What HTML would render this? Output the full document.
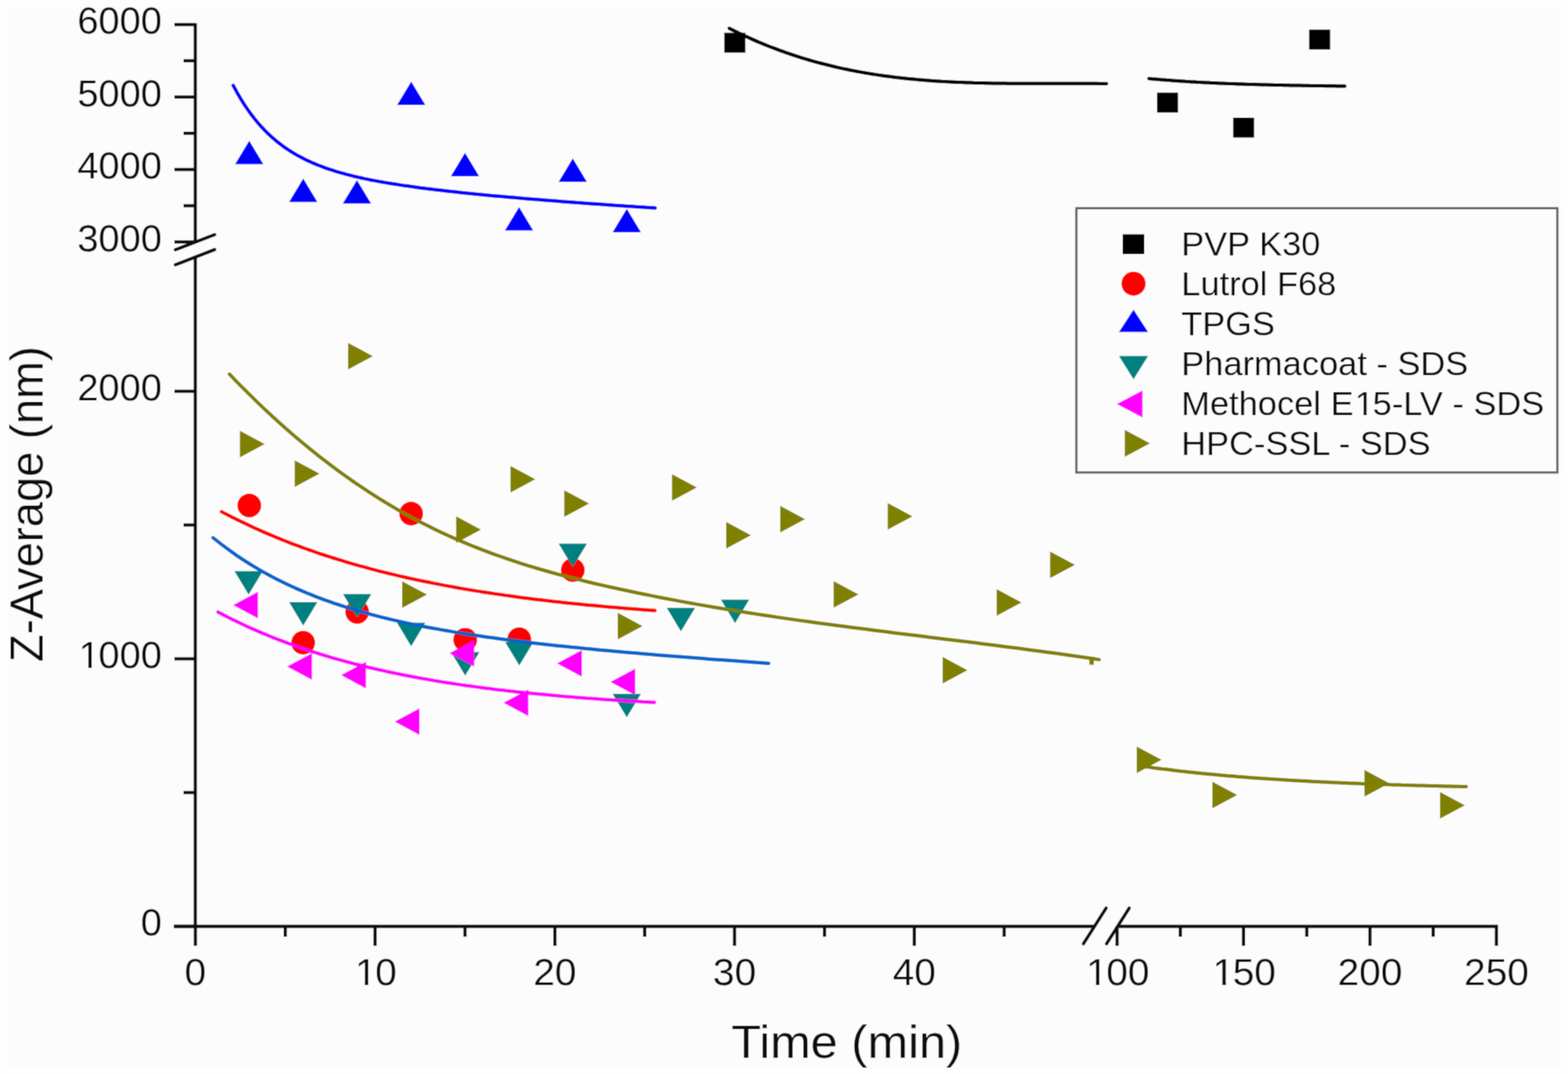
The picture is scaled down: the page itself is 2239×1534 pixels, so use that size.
<!DOCTYPE html><html><head><meta charset="utf-8"><style>html,body{margin:0;padding:0;background:#fefefe;}svg{display:block}text{font-family:"Liberation Sans",Arial,sans-serif;fill:#111}</style></head><body>
<svg width="2239" height="1534" viewBox="0 0 2239 1534">
<defs><filter id="bl" x="0" y="0" width="2239" height="1534" filterUnits="userSpaceOnUse"><feConvolveMatrix order="3" kernelMatrix="0.04 0.12 0.04 0.12 0.36 0.12 0.04 0.12 0.04" edgeMode="duplicate"/></filter></defs>
<g filter="url(#bl)">
<rect x="0" y="0" width="2239" height="1534" fill="#fefefe"/>
<rect x="9" y="10" width="2221" height="1516" fill="#fcfcfc"/>
<g><circle cx="356.0" cy="722.1" r="17" fill="#ff0000"/><circle cx="432.9" cy="917.9" r="17" fill="#ff0000"/><circle cx="510.0" cy="874.0" r="17" fill="#ff0000"/><circle cx="587.1" cy="733.6" r="17" fill="#ff0000"/><circle cx="664.3" cy="913.7" r="17" fill="#ff0000"/><circle cx="741.5" cy="913.0" r="17" fill="#ff0000"/><circle cx="817.9" cy="814.3" r="17" fill="#ff0000"/></g>
<path fill="#0000ff" d="M355.9 200.9L376.1 234.4L335.7 234.4ZM433.0 254.9L453.2 288.4L412.8 288.4ZM509.7 257.3L529.9 290.8L489.5 290.8ZM587.2 116.4L607.4 149.9L567.0 149.9ZM664.0 218.3L684.2 251.8L643.8 251.8ZM741.2 295.8L761.4 329.3L721.0 329.3ZM817.9 226.3L838.1 259.8L797.7 259.8ZM895.0 298.2L915.2 331.7L874.8 331.7Z"/>
<path fill="#008080" d="M334.8 815.7L375.2 815.7L355.0 849.2ZM412.8 860.0L453.2 860.0L433.0 893.5ZM489.8 848.6L530.2 848.6L510.0 882.1ZM566.9 889.5L607.3 889.5L587.1 923.0ZM644.1 931.5L684.5 931.5L664.3 965.0ZM721.3 917.0L761.7 917.0L741.5 950.5ZM797.7 776.4L838.1 776.4L817.9 809.9ZM874.8 991.0L915.2 991.0L895.0 1024.5ZM952.1 868.3L992.5 868.3L972.3 901.8ZM1029.4 856.5L1069.8 856.5L1049.6 890.0Z"/>
<path fill="#ff00ff" d="M332.9 864.3L368.3 845.3L368.3 883.3ZM410.0 952.1L445.4 933.1L445.4 971.1ZM487.1 964.3L522.5 945.3L522.5 983.3ZM563.6 1030.7L599.0 1011.7L599.0 1049.7ZM641.8 933.1L677.2 914.1L677.2 952.1ZM719.0 1003.8L754.4 984.8L754.4 1022.8ZM795.4 947.5L830.8 928.5L830.8 966.5ZM871.7 974.0L907.1 955.0L907.1 993.0Z"/>
<path fill="#808000" d="M342.6 615.3L378.0 634.3L342.6 653.3ZM420.8 657.5L456.2 676.5L420.8 695.5ZM497.0 489.7L532.4 508.7L497.0 527.7ZM574.3 830.3L609.7 849.3L574.3 868.3ZM651.4 737.4L686.8 756.4L651.4 775.4ZM728.9 665.6L764.3 684.6L728.9 703.6ZM805.7 700.2L841.1 719.2L805.7 738.2ZM882.1 875.3L917.5 894.3L882.1 913.3ZM959.6 677.2L995.0 696.2L959.6 715.2ZM1036.9 745.6L1072.3 764.6L1036.9 783.6ZM1114.1 722.4L1149.5 741.4L1114.1 760.4ZM1190.4 830.0L1225.8 849.0L1190.4 868.0ZM1267.6 718.5L1303.0 737.5L1267.6 756.5ZM1346.0 938.2L1381.4 957.2L1346.0 976.2ZM1423.2 841.4L1458.6 860.4L1423.2 879.4ZM1499.5 787.8L1534.9 806.8L1499.5 825.8ZM1623.2 1066.3L1658.6 1085.3L1623.2 1104.3ZM1731.2 1116.6L1766.6 1135.6L1731.2 1154.6ZM1948.4 1099.8L1983.8 1118.8L1948.4 1137.8ZM2056.3 1131.3L2091.7 1150.3L2056.3 1169.3Z"/>
<path fill="#000" d="M1034.3 46.8h30v28.5h-30ZM1652.2 132.2h30v28.5h-30ZM1760.8 167.9h30v28.5h-30ZM1869.4 42.2h30v28.5h-30Z"/>
<rect x="1555.6" y="938" width="6.3" height="11.5" fill="#808000"/>
<path d="M333.0 122.0 L338.1 131.4 L343.1 140.1 L348.2 148.3 L353.3 155.9 L358.3 162.9 L363.4 169.5 L368.4 175.6 L373.5 181.3 L378.6 186.7 L383.6 191.7 L388.7 196.3 L393.8 200.7 L398.8 204.7 L403.9 208.6 L408.9 212.1 L414.0 215.5 L419.1 218.6 L424.1 221.6 L429.2 224.3 L434.3 227.0 L439.3 229.4 L444.4 231.7 L449.4 233.9 L454.5 236.0 L459.6 237.9 L464.6 239.8 L469.7 241.6 L474.8 243.2 L479.8 244.8 L484.9 246.3 L490.0 247.7 L495.0 249.1 L500.1 250.4 L505.1 251.7 L510.2 252.9 L515.3 254.0 L520.3 255.1 L525.4 256.1 L530.5 257.2 L535.5 258.1 L540.6 259.1 L545.6 260.0 L550.7 260.9 L555.8 261.7 L560.8 262.5 L565.9 263.3 L571.0 264.1 L576.0 264.9 L581.1 265.6 L586.2 266.3 L591.2 267.0 L596.3 267.7 L601.3 268.4 L606.4 269.0 L611.5 269.7 L616.5 270.3 L621.6 270.9 L626.7 271.5 L631.7 272.1 L636.8 272.7 L641.8 273.2 L646.9 273.8 L652.0 274.3 L657.0 274.9 L662.1 275.4 L667.2 275.9 L672.2 276.4 L677.3 276.9 L682.3 277.4 L687.4 277.9 L692.5 278.4 L697.5 278.9 L702.6 279.4 L707.7 279.9 L712.7 280.3 L717.8 280.8 L722.9 281.2 L727.9 281.7 L733.0 282.1 L738.0 282.6 L743.1 283.0 L748.2 283.4 L753.2 283.9 L758.3 284.3 L763.4 284.7 L768.4 285.1 L773.5 285.5 L778.5 285.9 L783.6 286.3 L788.7 286.7 L793.7 287.1 L798.8 287.5 L803.9 287.9 L808.9 288.3 L814.0 288.7 L819.1 289.1 L824.1 289.4 L829.2 289.8 L834.2 290.2 L839.3 290.6 L844.4 290.9 L849.4 291.3 L854.5 291.6 L859.6 292.0 L864.6 292.3 L869.7 292.7 L874.7 293.0 L879.8 293.4 L884.9 293.7 L889.9 294.1 L895.0 294.4 L900.1 294.7 L905.1 295.1 L910.2 295.4 L915.2 295.7 L920.3 296.0 L925.4 296.4 L930.4 296.7 L935.5 297.0" fill="none" stroke="#0000ff" stroke-width="5.0" stroke-linecap="round" stroke-linejoin="round"/>
<path d="M316.4 730.9 L321.6 733.6 L326.8 736.3 L332.0 739.0 L337.2 741.6 L342.4 744.1 L347.6 746.6 L352.8 749.1 L358.0 751.6 L363.2 754.0 L368.4 756.3 L373.6 758.6 L378.8 760.9 L384.0 763.1 L389.2 765.3 L394.4 767.5 L399.6 769.6 L404.8 771.7 L410.0 773.8 L415.2 775.8 L420.4 777.8 L425.6 779.7 L430.8 781.6 L436.0 783.5 L441.2 785.4 L446.4 787.2 L451.6 789.0 L456.8 790.8 L462.0 792.5 L467.2 794.2 L472.4 795.9 L477.6 797.5 L482.8 799.2 L488.0 800.7 L493.2 802.3 L498.4 803.8 L503.6 805.4 L508.8 806.8 L514.0 808.3 L519.2 809.7 L524.4 811.2 L529.6 812.6 L534.8 813.9 L540.0 815.3 L545.2 816.6 L550.4 817.9 L555.6 819.2 L560.8 820.4 L566.0 821.6 L571.2 822.9 L576.4 824.0 L581.6 825.2 L586.8 826.4 L592.0 827.5 L597.2 828.6 L602.4 829.7 L607.6 830.8 L612.8 831.8 L618.0 832.9 L623.2 833.9 L628.4 834.9 L633.6 835.9 L638.8 836.9 L644.0 837.8 L649.2 838.8 L654.4 839.7 L659.6 840.6 L664.8 841.5 L670.0 842.4 L675.2 843.2 L680.4 844.1 L685.6 844.9 L690.8 845.7 L696.0 846.5 L701.2 847.3 L706.4 848.1 L711.6 848.9 L716.8 849.6 L722.0 850.4 L727.2 851.1 L732.4 851.8 L737.6 852.5 L742.8 853.2 L748.0 853.9 L753.2 854.6 L758.4 855.2 L763.6 855.9 L768.8 856.5 L774.0 857.1 L779.2 857.7 L784.4 858.3 L789.6 858.9 L794.8 859.5 L800.0 860.1 L805.2 860.7 L810.4 861.2 L815.6 861.8 L820.8 862.3 L826.0 862.8 L831.2 863.3 L836.4 863.9 L841.6 864.4 L846.8 864.8 L852.0 865.3 L857.2 865.8 L862.4 866.3 L867.6 866.7 L872.8 867.2 L878.0 867.6 L883.2 868.1 L888.4 868.5 L893.6 868.9 L898.8 869.3 L904.0 869.7 L909.2 870.1 L914.4 870.5 L919.6 870.9 L924.8 871.3 L930.0 871.7 L935.2 872.1" fill="none" stroke="#ff0000" stroke-width="5.0" stroke-linecap="round" stroke-linejoin="round"/>
<path d="M304.3 768.1 L311.0 773.4 L317.6 778.6 L324.3 783.6 L331.0 788.4 L337.6 793.1 L344.3 797.6 L351.0 801.9 L357.6 806.1 L364.3 810.2 L371.0 814.1 L377.6 817.9 L384.3 821.5 L391.0 825.1 L397.6 828.5 L404.3 831.8 L410.9 835.0 L417.6 838.1 L424.3 841.1 L430.9 843.9 L437.6 846.7 L444.3 849.4 L450.9 852.1 L457.6 854.6 L464.3 857.1 L470.9 859.4 L477.6 861.8 L484.3 864.0 L490.9 866.2 L497.6 868.3 L504.3 870.3 L510.9 872.3 L517.6 874.2 L524.3 876.0 L530.9 877.9 L537.6 879.6 L544.3 881.3 L550.9 883.0 L557.6 884.6 L564.3 886.1 L570.9 887.7 L577.6 889.1 L584.3 890.6 L590.9 892.0 L597.6 893.3 L604.2 894.7 L610.9 896.0 L617.6 897.2 L624.2 898.4 L630.9 899.6 L637.6 900.8 L644.2 901.9 L650.9 903.1 L657.6 904.1 L664.2 905.2 L670.9 906.2 L677.6 907.3 L684.2 908.2 L690.9 909.2 L697.6 910.2 L704.2 911.1 L710.9 912.0 L717.6 912.9 L724.2 913.8 L730.9 914.6 L737.6 915.5 L744.2 916.3 L750.9 917.1 L757.6 917.9 L764.2 918.7 L770.9 919.4 L777.6 920.2 L784.2 920.9 L790.9 921.7 L797.6 922.4 L804.2 923.1 L810.9 923.8 L817.5 924.5 L824.2 925.1 L830.9 925.8 L837.5 926.4 L844.2 927.1 L850.9 927.7 L857.5 928.4 L864.2 929.0 L870.9 929.6 L877.5 930.2 L884.2 930.8 L890.9 931.4 L897.5 932.0 L904.2 932.6 L910.9 933.1 L917.5 933.7 L924.2 934.3 L930.9 934.8 L937.5 935.4 L944.2 935.9 L950.9 936.5 L957.5 937.0 L964.2 937.5 L970.9 938.1 L977.5 938.6 L984.2 939.1 L990.9 939.6 L997.5 940.1 L1004.2 940.6 L1010.8 941.2 L1017.5 941.7 L1024.2 942.2 L1030.8 942.6 L1037.5 943.1 L1044.2 943.6 L1050.8 944.1 L1057.5 944.6 L1064.2 945.1 L1070.8 945.6 L1077.5 946.1 L1084.2 946.5 L1090.8 947.0 L1097.5 947.5" fill="none" stroke="#0066cc" stroke-width="5.0" stroke-linecap="round" stroke-linejoin="round"/>
<path d="M311.4 874.2 L316.6 877.0 L321.9 879.7 L327.1 882.4 L332.3 885.0 L337.6 887.5 L342.8 890.0 L348.1 892.5 L353.3 894.9 L358.5 897.3 L363.8 899.6 L369.0 901.9 L374.2 904.1 L379.5 906.3 L384.7 908.5 L389.9 910.6 L395.2 912.7 L400.4 914.7 L405.7 916.7 L410.9 918.6 L416.1 920.5 L421.4 922.4 L426.6 924.2 L431.8 926.0 L437.1 927.8 L442.3 929.5 L447.5 931.2 L452.8 932.9 L458.0 934.5 L463.2 936.1 L468.5 937.7 L473.7 939.3 L479.0 940.8 L484.2 942.2 L489.4 943.7 L494.7 945.1 L499.9 946.5 L505.1 947.9 L510.4 949.2 L515.6 950.5 L520.8 951.8 L526.1 953.1 L531.3 954.3 L536.6 955.6 L541.8 956.8 L547.0 957.9 L552.3 959.1 L557.5 960.2 L562.7 961.3 L568.0 962.4 L573.2 963.5 L578.4 964.5 L583.7 965.5 L588.9 966.5 L594.2 967.5 L599.4 968.5 L604.6 969.4 L609.9 970.3 L615.1 971.2 L620.3 972.1 L625.6 973.0 L630.8 973.9 L636.0 974.7 L641.3 975.5 L646.5 976.3 L651.7 977.1 L657.0 977.9 L662.2 978.7 L667.5 979.4 L672.7 980.1 L677.9 980.9 L683.2 981.6 L688.4 982.2 L693.6 982.9 L698.9 983.6 L704.1 984.2 L709.3 984.9 L714.6 985.5 L719.8 986.1 L725.1 986.7 L730.3 987.3 L735.5 987.9 L740.8 988.5 L746.0 989.0 L751.2 989.6 L756.5 990.1 L761.7 990.6 L766.9 991.1 L772.2 991.6 L777.4 992.1 L782.7 992.6 L787.9 993.1 L793.1 993.6 L798.4 994.0 L803.6 994.5 L808.8 994.9 L814.1 995.3 L819.3 995.8 L824.5 996.2 L829.8 996.6 L835.0 997.0 L840.2 997.4 L845.5 997.7 L850.7 998.1 L856.0 998.5 L861.2 998.9 L866.4 999.2 L871.7 999.6 L876.9 999.9 L882.1 1000.2 L887.4 1000.6 L892.6 1000.9 L897.8 1001.2 L903.1 1001.5 L908.3 1001.8 L913.6 1002.1 L918.8 1002.4 L924.0 1002.7 L929.3 1003.0 L934.5 1003.2" fill="none" stroke="#ff00ff" stroke-width="5.0" stroke-linecap="round" stroke-linejoin="round"/>
<path d="M327.6 534.3 L338.0 545.2 L348.5 555.7 L358.9 566.1 L369.3 576.3 L379.8 586.2 L390.2 595.9 L400.7 605.3 L411.1 614.6 L421.5 623.6 L432.0 632.4 L442.4 641.0 L452.8 649.4 L463.3 657.5 L473.7 665.5 L484.1 673.2 L494.6 680.8 L505.0 688.1 L515.5 695.2 L525.9 702.1 L536.3 708.9 L546.8 715.4 L557.2 721.7 L567.6 727.8 L578.1 733.7 L588.5 739.4 L598.9 745.0 L609.4 750.3 L619.8 755.5 L630.2 760.4 L640.7 765.2 L651.1 769.9 L661.6 774.4 L672.0 778.7 L682.4 782.9 L692.9 786.9 L703.3 790.8 L713.7 794.5 L724.2 798.2 L734.6 801.7 L745.0 805.1 L755.5 808.3 L765.9 811.5 L776.4 814.5 L786.8 817.5 L797.2 820.4 L807.7 823.1 L818.1 825.8 L828.5 828.4 L839.0 831.0 L849.4 833.5 L859.8 835.9 L870.3 838.2 L880.7 840.5 L891.2 842.8 L901.6 845.0 L912.0 847.2 L922.5 849.3 L932.9 851.4 L943.3 853.5 L953.8 855.5 L964.2 857.4 L974.6 859.4 L985.1 861.3 L995.5 863.1 L1005.9 864.9 L1016.4 866.7 L1026.8 868.5 L1037.3 870.2 L1047.7 871.9 L1058.1 873.6 L1068.6 875.2 L1079.0 876.9 L1089.4 878.5 L1099.9 880.0 L1110.3 881.6 L1120.7 883.1 L1131.2 884.6 L1141.6 886.1 L1152.1 887.5 L1162.5 889.0 L1172.9 890.4 L1183.4 891.8 L1193.8 893.2 L1204.2 894.6 L1214.7 895.9 L1225.1 897.3 L1235.5 898.6 L1246.0 900.0 L1256.4 901.3 L1266.9 902.6 L1277.3 903.9 L1287.7 905.2 L1298.2 906.5 L1308.6 907.8 L1319.0 909.1 L1329.5 910.4 L1339.9 911.7 L1350.3 913.0 L1360.8 914.3 L1371.2 915.5 L1381.6 916.8 L1392.1 918.1 L1402.5 919.5 L1413.0 920.8 L1423.4 922.1 L1433.8 923.4 L1444.3 924.8 L1454.7 926.1 L1465.1 927.5 L1475.6 928.9 L1486.0 930.3 L1496.4 931.7 L1506.9 933.1 L1517.3 934.5 L1527.8 936.0 L1538.2 937.5 L1548.6 939.0 L1559.1 940.5 L1569.5 942.1" fill="none" stroke="#808000" stroke-width="5.0" stroke-linecap="round" stroke-linejoin="round"/>
<path d="M1636.0 1095.1 L1639.8 1095.6 L1643.7 1096.1 L1647.5 1096.7 L1651.4 1097.2 L1655.2 1097.7 L1659.1 1098.2 L1662.9 1098.6 L1666.8 1099.1 L1670.6 1099.6 L1674.4 1100.0 L1678.3 1100.5 L1682.1 1100.9 L1686.0 1101.4 L1689.8 1101.8 L1693.7 1102.2 L1697.5 1102.7 L1701.4 1103.1 L1705.2 1103.5 L1709.0 1103.9 L1712.9 1104.3 L1716.7 1104.7 L1720.6 1105.0 L1724.4 1105.4 L1728.3 1105.8 L1732.1 1106.1 L1736.0 1106.5 L1739.8 1106.8 L1743.6 1107.2 L1747.5 1107.5 L1751.3 1107.9 L1755.2 1108.2 L1759.0 1108.5 L1762.9 1108.8 L1766.7 1109.2 L1770.6 1109.5 L1774.4 1109.8 L1778.2 1110.1 L1782.1 1110.4 L1785.9 1110.7 L1789.8 1110.9 L1793.6 1111.2 L1797.5 1111.5 L1801.3 1111.8 L1805.2 1112.0 L1809.0 1112.3 L1812.8 1112.6 L1816.7 1112.8 L1820.5 1113.1 L1824.4 1113.3 L1828.2 1113.5 L1832.1 1113.8 L1835.9 1114.0 L1839.8 1114.3 L1843.6 1114.5 L1847.4 1114.7 L1851.3 1114.9 L1855.1 1115.1 L1859.0 1115.4 L1862.8 1115.6 L1866.7 1115.8 L1870.5 1116.0 L1874.4 1116.2 L1878.2 1116.4 L1882.1 1116.6 L1885.9 1116.8 L1889.7 1116.9 L1893.6 1117.1 L1897.4 1117.3 L1901.3 1117.5 L1905.1 1117.7 L1909.0 1117.8 L1912.8 1118.0 L1916.7 1118.2 L1920.5 1118.3 L1924.3 1118.5 L1928.2 1118.7 L1932.0 1118.8 L1935.9 1119.0 L1939.7 1119.1 L1943.6 1119.3 L1947.4 1119.4 L1951.3 1119.6 L1955.1 1119.7 L1958.9 1119.9 L1962.8 1120.0 L1966.6 1120.1 L1970.5 1120.3 L1974.3 1120.4 L1978.2 1120.5 L1982.0 1120.6 L1985.9 1120.8 L1989.7 1120.9 L1993.5 1121.0 L1997.4 1121.1 L2001.2 1121.3 L2005.1 1121.4 L2008.9 1121.5 L2012.8 1121.6 L2016.6 1121.7 L2020.5 1121.8 L2024.3 1121.9 L2028.1 1122.0 L2032.0 1122.1 L2035.8 1122.2 L2039.7 1122.3 L2043.5 1122.4 L2047.4 1122.5 L2051.2 1122.6 L2055.1 1122.7 L2058.9 1122.8 L2062.7 1122.9 L2066.6 1123.0 L2070.4 1123.1 L2074.3 1123.2 L2078.1 1123.3 L2082.0 1123.3 L2085.8 1123.4 L2089.7 1123.5 L2093.5 1123.6" fill="none" stroke="#808000" stroke-width="5.0" stroke-linecap="round" stroke-linejoin="round"/>
<path d="M1041.4 40.5 L1045.9 42.8 L1050.5 45.0 L1055.0 47.2 L1059.5 49.4 L1064.0 51.5 L1068.6 53.6 L1073.1 55.6 L1077.6 57.6 L1082.1 59.6 L1086.7 61.5 L1091.2 63.4 L1095.7 65.2 L1100.2 67.0 L1104.8 68.7 L1109.3 70.4 L1113.8 72.1 L1118.3 73.7 L1122.9 75.3 L1127.4 76.9 L1131.9 78.4 L1136.4 79.9 L1141.0 81.4 L1145.5 82.8 L1150.0 84.1 L1154.6 85.5 L1159.1 86.8 L1163.6 88.1 L1168.1 89.3 L1172.7 90.5 L1177.2 91.7 L1181.7 92.8 L1186.2 93.9 L1190.8 95.0 L1195.3 96.1 L1199.8 97.1 L1204.3 98.1 L1208.9 99.0 L1213.4 100.0 L1217.9 100.9 L1222.4 101.7 L1227.0 102.6 L1231.5 103.4 L1236.0 104.2 L1240.5 104.9 L1245.1 105.7 L1249.6 106.4 L1254.1 107.1 L1258.7 107.8 L1263.2 108.4 L1267.7 109.0 L1272.2 109.6 L1276.8 110.2 L1281.3 110.7 L1285.8 111.2 L1290.3 111.7 L1294.9 112.2 L1299.4 112.7 L1303.9 113.1 L1308.4 113.6 L1313.0 114.0 L1317.5 114.3 L1322.0 114.7 L1326.5 115.0 L1331.1 115.4 L1335.6 115.7 L1340.1 116.0 L1344.6 116.3 L1349.2 116.5 L1353.7 116.8 L1358.2 117.0 L1362.7 117.2 L1367.3 117.4 L1371.8 117.6 L1376.3 117.8 L1380.9 118.0 L1385.4 118.1 L1389.9 118.3 L1394.4 118.4 L1399.0 118.5 L1403.5 118.6 L1408.0 118.7 L1412.5 118.8 L1417.1 118.9 L1421.6 119.0 L1426.1 119.0 L1430.6 119.1 L1435.2 119.1 L1439.7 119.2 L1444.2 119.2 L1448.7 119.2 L1453.3 119.3 L1457.8 119.3 L1462.3 119.3 L1466.8 119.3 L1471.4 119.3 L1475.9 119.3 L1480.4 119.3 L1485.0 119.3 L1489.5 119.3 L1494.0 119.3 L1498.5 119.3 L1503.1 119.3 L1507.6 119.3 L1512.1 119.3 L1516.6 119.3 L1521.2 119.3 L1525.7 119.3 L1530.2 119.3 L1534.7 119.3 L1539.3 119.3 L1543.8 119.3 L1548.3 119.3 L1552.8 119.3 L1557.4 119.3 L1561.9 119.3 L1566.4 119.3 L1570.9 119.4 L1575.5 119.4 L1580.0 119.5" fill="none" stroke="#000000" stroke-width="5.0" stroke-linecap="round" stroke-linejoin="round"/>
<path d="M1640.7 112.2 L1643.0 112.4 L1645.4 112.7 L1647.7 112.9 L1650.1 113.1 L1652.4 113.3 L1654.8 113.5 L1657.1 113.7 L1659.5 113.9 L1661.8 114.1 L1664.2 114.3 L1666.5 114.5 L1668.9 114.6 L1671.2 114.8 L1673.6 115.0 L1675.9 115.2 L1678.3 115.3 L1680.6 115.5 L1683.0 115.7 L1685.3 115.8 L1687.7 116.0 L1690.0 116.1 L1692.4 116.3 L1694.7 116.4 L1697.0 116.6 L1699.4 116.7 L1701.7 116.9 L1704.1 117.0 L1706.4 117.1 L1708.8 117.3 L1711.1 117.4 L1713.5 117.5 L1715.8 117.7 L1718.2 117.8 L1720.5 117.9 L1722.9 118.0 L1725.2 118.1 L1727.6 118.2 L1729.9 118.4 L1732.3 118.5 L1734.6 118.6 L1737.0 118.7 L1739.3 118.8 L1741.7 118.9 L1744.0 119.0 L1746.4 119.1 L1748.7 119.2 L1751.1 119.3 L1753.4 119.4 L1755.7 119.5 L1758.1 119.6 L1760.4 119.6 L1762.8 119.7 L1765.1 119.8 L1767.5 119.9 L1769.8 120.0 L1772.2 120.1 L1774.5 120.1 L1776.9 120.2 L1779.2 120.3 L1781.6 120.4 L1783.9 120.4 L1786.3 120.5 L1788.6 120.6 L1791.0 120.6 L1793.3 120.7 L1795.7 120.8 L1798.0 120.8 L1800.4 120.9 L1802.7 121.0 L1805.1 121.0 L1807.4 121.1 L1809.7 121.1 L1812.1 121.2 L1814.4 121.3 L1816.8 121.3 L1819.1 121.4 L1821.5 121.4 L1823.8 121.5 L1826.2 121.5 L1828.5 121.6 L1830.9 121.6 L1833.2 121.7 L1835.6 121.7 L1837.9 121.8 L1840.3 121.8 L1842.6 121.9 L1845.0 121.9 L1847.3 122.0 L1849.7 122.0 L1852.0 122.0 L1854.4 122.1 L1856.7 122.1 L1859.1 122.2 L1861.4 122.2 L1863.8 122.2 L1866.1 122.3 L1868.4 122.3 L1870.8 122.4 L1873.1 122.4 L1875.5 122.4 L1877.8 122.5 L1880.2 122.5 L1882.5 122.5 L1884.9 122.6 L1887.2 122.6 L1889.6 122.6 L1891.9 122.7 L1894.3 122.7 L1896.6 122.7 L1899.0 122.7 L1901.3 122.8 L1903.7 122.8 L1906.0 122.8 L1908.4 122.9 L1910.7 122.9 L1913.1 122.9 L1915.4 122.9 L1917.8 123.0 L1920.1 123.0" fill="none" stroke="#000000" stroke-width="5.0" stroke-linecap="round" stroke-linejoin="round"/>
<g stroke="#111" stroke-width="4.6" fill="none" stroke-linecap="butt"><path d="M278.9 33.1 V346"/><path d="M278.9 367.5 V1325.2"/><path d="M248.2 1323.1 H1563"/><path d="M1596 1323.1 H2139.1"/><path d="M249 35.1 H278.9"/><path d="M249 138.6 H278.9"/><path d="M249 242.1 H278.9"/><path d="M249 345.6 H278.9"/><path d="M262 86.8 H278.9"/><path d="M262 190.3 H278.9"/><path d="M262 293.9 H278.9"/><path d="M249 1323.1 H278.9"/><path d="M249 941.0 H278.9"/><path d="M249 558.9 H278.9"/><path d="M262 1132.0 H278.9"/><path d="M262 749.9 H278.9"/><path d="M279.0 1323 V1351"/><path d="M535.6 1323 V1351"/><path d="M792.3 1323 V1351"/><path d="M1048.9 1323 V1351"/><path d="M1305.6 1323 V1351"/><path d="M407.3 1323 V1338"/><path d="M664.0 1323 V1338"/><path d="M920.6 1323 V1338"/><path d="M1177.3 1323 V1338"/><path d="M1433.9 1323 V1338"/><path d="M1595.1 1323 V1351"/><path d="M1775.7 1323 V1351"/><path d="M1956.2 1323 V1351"/><path d="M2136.8 1323 V1351"/><path d="M1685.4 1323 V1338"/><path d="M1866.0 1323 V1338"/><path d="M2046.5 1323 V1338"/></g><g stroke="#111" stroke-width="4.6" fill="none" stroke-linecap="round"><path d="M250.5 356.7 L306.5 335.2"/><path d="M250.5 378.2 L306.5 356.5"/><path d="M1547 1348 L1579.5 1297"/><path d="M1580 1348 L1612.5 1297"/></g>
<g transform="translate(231.20 48.10) scale(1.0250 1)"><text x="-117.89" y="0" font-size="53">6000</text></g><g transform="translate(231.20 151.60) scale(1.0250 1)"><text x="-117.89" y="0" font-size="53">5000</text></g><g transform="translate(231.20 255.10) scale(1.0250 1)"><text x="-117.89" y="0" font-size="53">4000</text></g><g transform="translate(231.20 358.60) scale(1.0250 1)"><text x="-117.89" y="0" font-size="53">3000</text></g><g transform="translate(231.20 571.90) scale(1.0250 1)"><text x="-117.89" y="0" font-size="53">2000</text></g><g transform="translate(231.20 954.00) scale(1.0250 1)"><text x="-117.89" y="0" font-size="53"><tspan dx="2.12">1</tspan><tspan dx="-2.12">0</tspan>00</text><rect x="-112.59" y="-4.40" width="10.02" height="5.04" fill="#fcfcfc"/><rect x="-97.70" y="-4.40" width="10.28" height="5.04" fill="#fcfcfc"/></g><g transform="translate(231.20 1336.10) scale(1.0250 1)"><text x="-29.47" y="0" font-size="53">0</text></g><g transform="translate(279.00 1407.30) scale(1.0470 1)"><text x="-14.74" y="0" font-size="53">0</text></g><g transform="translate(535.65 1407.30) scale(1.0470 1)"><text x="-29.47" y="0" font-size="53"><tspan dx="2.12">1</tspan><tspan dx="-2.12">0</tspan></text><rect x="-24.17" y="-4.40" width="10.02" height="5.04" fill="#fcfcfc"/><rect x="-9.28" y="-4.40" width="10.28" height="5.04" fill="#fcfcfc"/></g><g transform="translate(792.30 1407.30) scale(1.0470 1)"><text x="-29.47" y="0" font-size="53">20</text></g><g transform="translate(1048.95 1407.30) scale(1.0470 1)"><text x="-29.47" y="0" font-size="53">30</text></g><g transform="translate(1305.60 1407.30) scale(1.0470 1)"><text x="-29.47" y="0" font-size="53">40</text></g><g transform="translate(1595.10 1407.30) scale(1.0470 1)"><text x="-44.21" y="0" font-size="53"><tspan dx="2.12">1</tspan><tspan dx="-2.12">0</tspan>0</text><rect x="-38.91" y="-4.40" width="10.02" height="5.04" fill="#fcfcfc"/><rect x="-24.02" y="-4.40" width="10.28" height="5.04" fill="#fcfcfc"/></g><g transform="translate(1775.67 1407.30) scale(1.0470 1)"><text x="-44.21" y="0" font-size="53"><tspan dx="2.12">1</tspan><tspan dx="-2.12">5</tspan>0</text><rect x="-38.91" y="-4.40" width="10.02" height="5.04" fill="#fcfcfc"/><rect x="-24.02" y="-4.40" width="10.28" height="5.04" fill="#fcfcfc"/></g><g transform="translate(1956.25 1407.30) scale(1.0470 1)"><text x="-44.21" y="0" font-size="53">200</text></g><g transform="translate(2136.82 1407.30) scale(1.0470 1)"><text x="-44.21" y="0" font-size="53">250</text></g>
<g transform="translate(1044.30 1510.50) scale(1.0540 1)"><text x="0.00" y="0" font-size="66">Time (min)</text></g>
<text transform="translate(61.4 945.5) scale(1.04 1) rotate(-90)" font-size="64.6">Z-Average (nm)</text>
<rect x="1537" y="297.4" width="686.8" height="377.4" fill="none" stroke="#626262" stroke-width="3.2"/>
<rect x="1603" y="334.6" width="31" height="28.3" fill="#000"/><circle cx="1618.6" cy="405.2" r="17.2" fill="#ff0000"/><path fill="#0000ff" d="M1618.6 442.2L1639.4 474.3L1597.8 474.3Z"/><path fill="#008080" d="M1597.8 508.6L1639.4 508.6L1618.6 541.7Z"/><path fill="#ff00ff" d="M1594.8 577L1631.4 557.8L1631.4 596.3Z"/><path fill="#808000" d="M1606.1 614L1642 633.2L1606.1 652.5Z"/><g transform="translate(1686.80 365.40) scale(1.0350 1)"><text x="0.00" y="0" font-size="47.5">PVP K30</text></g><g transform="translate(1686.80 422.25) scale(1.0350 1)"><text x="0.00" y="0" font-size="47.5">Lutrol F68</text></g><g transform="translate(1686.80 479.10) scale(1.0350 1)"><text x="0.00" y="0" font-size="47.5">TPGS</text></g><g transform="translate(1686.80 535.95) scale(1.0350 1)"><text x="0.00" y="0" font-size="47.5">Pharmacoat - SDS</text></g><g transform="translate(1686.80 592.80) scale(1.0350 1)"><text x="0.00" y="0" font-size="47.5">Methocel E<tspan dx="1.90">1</tspan><tspan dx="-1.90">5</tspan>-LV - SDS</text><rect x="242.35" y="-3.94" width="8.98" height="4.51" fill="#fcfcfc"/><rect x="255.70" y="-3.94" width="9.21" height="4.51" fill="#fcfcfc"/></g><g transform="translate(1686.80 649.65) scale(1.0350 1)"><text x="0.00" y="0" font-size="47.5">HPC-SSL - SDS</text></g>
</g></svg></body></html>
